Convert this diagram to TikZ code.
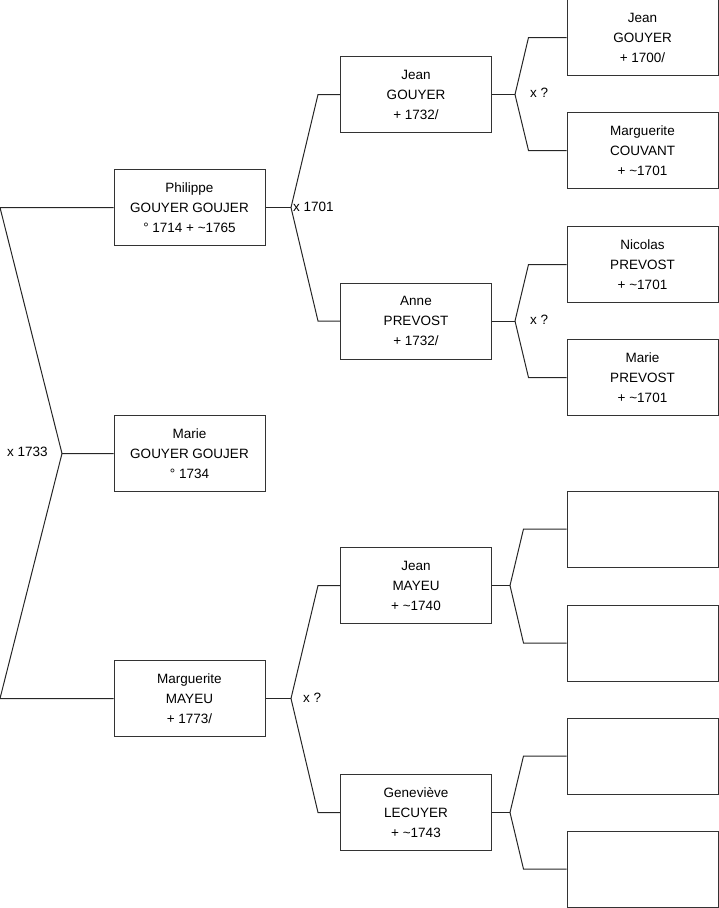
\documentclass[tikz,border=0pt]{standalone}
\usepackage{fontspec}
\setmainfont{Liberation Sans}
\begin{document}
\begin{tikzpicture}[x=1pt,y=-1pt,
	person/.style={draw=black!80,line width=1pt,minimum width=151pt,minimum height=76pt,align=center,inner sep=0pt,font=\fontsize{13.5}{20}\selectfont},
	link/.style={draw=black!85,line width=1pt},
	wedding/.style={anchor=west,inner sep=0pt,font=\fontsize{13.5}{16}\selectfont}]
	\useasboundingbox (0,0) rectangle (719,908);
	% generation 1
	\node[person](marie) at (189.5,453.5){Marie\\GOUYER GOUJER\\° 1734};
	% generation 2
	\node[person](philippe) at (189.5,207.5){Philippe\\GOUYER GOUJER\\° 1714 + \textasciitilde1765};
	\node[person](marguerite) at (189.5,698.5){Marguerite\\MAYEU\\+ 1773/};
	% generation 3
	\node[person](jeang) at (416,94.5){Jean\\GOUYER\\+ 1732/};
	\node[person](anne) at (416,321){Anne\\PREVOST\\+ 1732/};
	\node[person](jeanm) at (416,585.5){Jean\\MAYEU\\+ \textasciitilde1740};
	\node[person](genevieve) at (416,812.5){Geneviève\\LECUYER\\+ \textasciitilde1743};
	% generation 4
	\node[person](jeango) at (642.5,37.5){Jean\\GOUYER\\+ 1700/};
	\node[person](margueritec) at (642.5,150.5){Marguerite\\COUVANT\\+ \textasciitilde1701};
	\node[person](nicolas) at (642.5,264.5){Nicolas\\PREVOST\\+ \textasciitilde1701};
	\node[person](mariep) at (642.5,377.5){Marie\\PREVOST\\+ \textasciitilde1701};
	\node[person](e1) at (642.5,529){};
	\node[person](e2) at (642.5,643){};
	\node[person](e3) at (642.5,756){};
	\node[person](e4) at (642.5,869){};
	% forks
	\coordinate(fm) at (62,453.5);
	\coordinate(fp) at (291,207.5);
	\coordinate(fmm) at (291,698.5);
	\coordinate(fjg) at (515,94.5);
	\coordinate(fan) at (515,321);
	\coordinate(fjm) at (510,585.5);
	\coordinate(fge) at (510,812.5);
	\draw[link] (marie.west) -- (fm) -- (0,207.5) -- (philippe.west);
	\draw[link] (fm) -- (0,698.5) -- (marguerite.west);
	\draw[link] (philippe.east) -- (fp);
	\draw[link] (fp) -- ([xshift=-22pt]jeang.west) -- (jeang.west);
	\draw[link] (fp) -- ([xshift=-22pt]anne.west) -- (anne.west);
	\draw[link] (marguerite.east) -- (fmm);
	\draw[link] (fmm) -- ([xshift=-22pt]jeanm.west) -- (jeanm.west);
	\draw[link] (fmm) -- ([xshift=-22pt]genevieve.west) -- (genevieve.west);
	\draw[link] (jeang.east) -- (fjg);
	\draw[link] (fjg) -- ([xshift=-38pt]jeango.west) -- (jeango.west);
	\draw[link] (fjg) -- ([xshift=-38pt]margueritec.west) -- (margueritec.west);
	\draw[link] (anne.east) -- (fan);
	\draw[link] (fan) -- ([xshift=-38pt]nicolas.west) -- (nicolas.west);
	\draw[link] (fan) -- ([xshift=-38pt]mariep.west) -- (mariep.west);
	\draw[link] (jeanm.east) -- (fjm);
	\draw[link] (fjm) -- ([xshift=-43pt]e1.west) -- (e1.west);
	\draw[link] (fjm) -- ([xshift=-43pt]e2.west) -- (e2.west);
	\draw[link] (genevieve.east) -- (fge);
	\draw[link] (fge) -- ([xshift=-43pt]e3.west) -- (e3.west);
	\draw[link] (fge) -- ([xshift=-43pt]e4.west) -- (e4.west);
	% marriages
	\node[wedding](m1733) at (7,451.5){x 1733};
	\node[wedding](m1701) at (293,207){x 1701};
	\node[wedding](mq1) at (530,92.5){x ?};
	\node[wedding](mq2) at (530,320){x ?};
	\node[wedding](mq3) at (303,697.5){x ?};
\end{tikzpicture}
\end{document}
